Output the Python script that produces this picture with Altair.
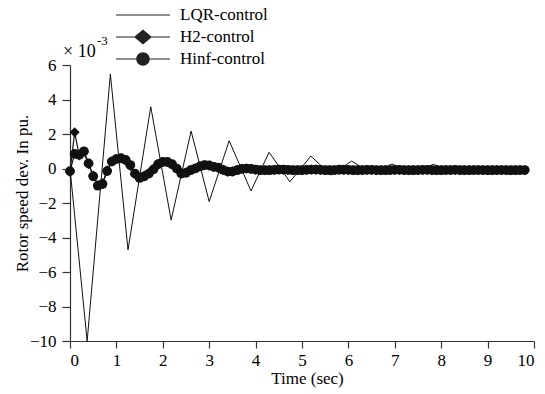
import altair as alt
import pandas as pd

# ---- data (values in units of 1e-3 pu) ----
series_names = ["LQR-control", "H2-control", "Hinf-control"]

lqr_t = [0, 0.37, 0.87, 1.25, 1.74, 2.18, 2.61, 3.0, 3.43, 3.90, 4.29, 4.74,
         5.19, 5.63, 6.07, 6.5, 6.94, 7.39, 7.83, 8.3, 8.75, 9.2, 9.65]
lqr_v = [0, -10, 5.48, -4.72, 3.58, -2.99, 2.17, -1.92, 1.61, -1.30, 0.94, -0.77,
         0.72, -0.38, 0.43, -0.30, 0.26, -0.25, 0.24, -0.20, 0.08, -0.15, -0.05]

# sampling instants of the marked responses (0.1 s)
marker_t = [round(0.1 * i, 1) for i in range(99)]

hinf_v = [-0.15, 0.85, 0.80, 1.00, 0.30, -0.45, -1.00, -0.90, -0.15, 0.40,
          0.55, 0.60, 0.50, 0.20, -0.30, -0.55, -0.45, -0.30, -0.05, 0.25,
          0.38, 0.38, 0.25, 0.00, -0.30, -0.25, -0.10, 0.00, 0.12, 0.20,
          0.18, 0.10, 0.05, -0.08, -0.18, -0.18, -0.10, -0.02, 0.00, -0.02,
          -0.06, -0.10, -0.10, -0.10, -0.08, -0.06, -0.06, -0.08, -0.10, -0.10,
          -0.10, -0.08, -0.06, -0.06, -0.08, -0.10, -0.10, -0.09, -0.07, -0.07,
          -0.08, -0.10, -0.10, -0.09, -0.08, -0.08, -0.09, -0.10, -0.10, -0.09,
          -0.08, -0.08, -0.09, -0.10, -0.10, -0.09, -0.08, -0.08, -0.09, -0.10,
          -0.10, -0.09, -0.09, -0.08, -0.09, -0.10, -0.10, -0.09, -0.09, -0.09,
          -0.10, -0.10, -0.09, -0.09, -0.09, -0.10, -0.10, -0.09, -0.09]

h2_v = [-0.20, 2.10, 0.75, 0.95, 0.25, -0.40, -0.95, -0.85, -0.10, 0.42,
        0.57, 0.58, 0.45, 0.15, -0.32, -0.52, -0.42, -0.26, -0.02, 0.26,
        0.37, 0.36, 0.22, -0.02, -0.28, -0.22, -0.08, 0.02, 0.13, 0.19,
        0.16, 0.08, 0.03, -0.09, -0.17, -0.16, -0.08, -0.01, 0.00, -0.03,
        -0.07, -0.10, -0.10, -0.09, -0.07, -0.06, -0.07, -0.09, -0.10, -0.10,
        -0.09, -0.07, -0.06, -0.07, -0.09, -0.10, -0.10, -0.08, -0.07, -0.08,
        -0.09, -0.10, -0.10, -0.08, -0.08, -0.09, -0.10, -0.10, -0.09, -0.08,
        -0.08, -0.09, -0.10, -0.10, -0.09, -0.08, -0.08, -0.09, -0.10, -0.10,
        -0.09, -0.09, -0.08, -0.09, -0.10, -0.10, -0.09, -0.09, -0.09, -0.10,
        -0.10, -0.09, -0.09, -0.09, -0.10, -0.10, -0.09, -0.09, -0.10]

y_ticks = [-10, -8, -6, -4, -2, 0, 2, 4, 6]
x_ticks = [0, 1, 2, 3, 4, 5, 6, 7, 8, 9, 10]

# legend symbols (all filled, clockwise): thin bar + marker, in the -1..1 box
BAR = "M-1,-0.02H1V0.02H-1Z"
legend_paths = [
    BAR,
    BAR + "M0,-0.28L0.33,0L0,0.28L-0.33,0Z",
    BAR + "M-0.25,0A0.25,0.25 0 1,1 0.25,0A0.25,0.25 0 1,1 -0.25,0Z",
]

df_lqr = pd.DataFrame({"t": lqr_t, "v": lqr_v, "series": series_names[0]})
df_h2 = pd.DataFrame({"t": marker_t, "v": h2_v, "series": series_names[1]})
df_hinf = pd.DataFrame({"t": marker_t, "v": hinf_v, "series": series_names[2]})
df_all = pd.concat([df_lqr, df_h2, df_hinf], ignore_index=True)

FONT = "Liberation Serif, Times New Roman, Times, serif"
INK = "#111111"

x_enc = alt.X("t:Q", scale=alt.Scale(domain=[0, 10], nice=False),
              axis=alt.Axis(values=x_ticks, tickCount=20, title="Time (sec)",
                            titleX=237, titleY=29, titleBaseline="top",
                            titleAlign="center", tickSize=7, labelPadding=4,
                            format="d", labelOverlap=False))
y_enc = alt.Y("v:Q", scale=alt.Scale(domain=[-10, 6], nice=False),
              axis=alt.Axis(values=y_ticks, tickCount=20,
                            title="Rotor speed dev. In pu.",
                            titleX=-48, titleY=128, titleAlign="center",
                            titleBaseline="middle", tickSize=8, labelPadding=6,
                            format="d", labelOverlap=False))

lqr = alt.Chart(df_lqr).mark_line(color=INK, strokeWidth=1).encode(x=x_enc, y=y_enc)

h2 = alt.Chart(df_h2).mark_line(
    color=INK, strokeWidth=1.2,
    point=alt.OverlayMarkDef(shape="diamond", size=100, filled=True, color=INK, opacity=1),
).encode(x=x_enc, y=y_enc)

hinf = alt.Chart(df_hinf).mark_line(
    color=INK, strokeWidth=1.2,
    point=alt.OverlayMarkDef(shape="circle", size=95, filled=True, color=INK, opacity=1),
).encode(x=x_enc, y=y_enc)

legend_layer = alt.Chart(df_all).mark_point(
    opacity=0, filled=True, color="#222222", size=1
).encode(
    x=x_enc, y=y_enc,
    shape=alt.Shape("series:N",
                    scale=alt.Scale(domain=series_names, range=legend_paths),
                    legend=alt.Legend(orient="none", legendX=46, legendY=-61,
                                      title=None, padding=0, clipHeight=22,
                                      rowPadding=0, symbolSize=2916,
                                      symbolStrokeWidth=0, symbolFillColor="#222222",
                                      symbolOpacity=1,
                                      labelOffset=10, labelFont=FONT,
                                      labelFontSize=17, labelColor="black",
                                      labelLimit=300)),
)

anchor = pd.DataFrame({"t": [0], "v": [6]})
times_ten = alt.Chart(anchor).mark_text(
    text="× 10", align="left", baseline="alphabetic", dx=-7, dy=-8,
    font=FONT, fontSize=18, color="black"
).encode(x=x_enc, y=y_enc)
exponent = alt.Chart(anchor).mark_text(
    text="-3", align="left", baseline="alphabetic", dx=27, dy=-20,
    font=FONT, fontSize=13, color="black"
).encode(x=x_enc, y=y_enc)

chart = alt.layer(lqr, h2, hinf, legend_layer, times_ten, exponent).properties(
    width=464, height=276,
    autosize=alt.AutoSizeParams(type="none"),
    padding={"left": 70, "top": 65, "right": 11, "bottom": 53},
    background="white",
).configure_view(stroke=None).configure_axis(
    grid=False, domainColor="#333333", tickColor="#333333", domainWidth=1.2,
    tickWidth=1.2, labelFont=FONT, labelFontSize=17, labelColor="black",
    titleFont=FONT, titleFontSize=17, titleFontWeight="normal", titleColor="black",
)

chart.save("out.html", embed_options={"renderer": "svg", "actions": False})
